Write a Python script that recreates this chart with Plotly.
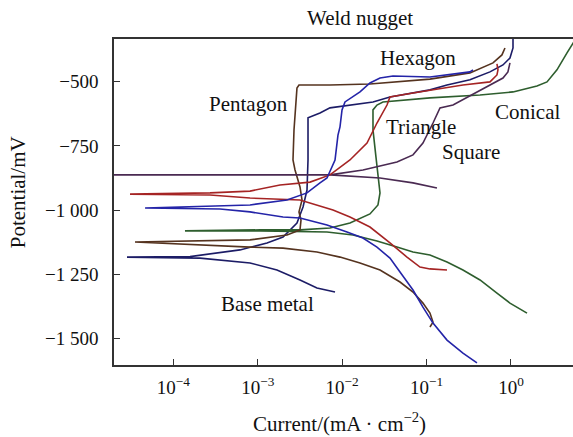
import numpy as np
import plotly.graph_objects as go

# log10(current density, mA/cm^2) and potential (mV) for each specimen
tri_logi = [-0.758, -0.960, -1.078, -1.232, -1.434, -1.671, -1.908, -2.109, -2.500, -3.092, -3.566, -4.514,
            -3.566, -3.092, -2.737, -2.381, -2.145, -1.908, -1.706, -1.588, -1.469, -1.434, -1.161, -0.569,
            -0.249, -0.166, -0.154, -0.166]
tri_e = [-1233, -1229, -1222, -1183, -1128, -1066, -1027, -1000, -961, -953, -941, -938,
         -933, -926, -902, -891, -863, -805, -739, -661, -591, -560, -544, -513,
         -501, -474, -454, -431]

hex_logi = [-0.403, -0.569, -0.758, -0.924, -1.043, -1.161, -1.315, -1.434, -1.588, -1.754, -1.943, -2.180,
            -2.500, -2.701, -3.092, -3.448, -4.336,
            -3.092, -2.654, -2.417, -2.263, -2.180, -2.085, -2.050, -2.026, -2.002, -1.967, -1.789, -1.671,
            -1.552, -1.398, -0.960, -0.486, -0.450]
hex_e = [-1595, -1557, -1506, -1440, -1378, -1311, -1241, -1187, -1144, -1109, -1085, -1058,
         -1031, -1027, -1007, -996, -992,
         -980, -961, -933, -894, -875, -805, -708, -676, -610, -579, -540, -505,
         -486, -478, -482, -462, -454]

base_logi = [-2.085, -2.299, -2.500, -2.773, -3.092, -3.685, -4.550,
             -3.803, -3.211, -2.891, -2.701, -2.536, -2.464, -2.417, -2.405, -2.405, -2.405, -2.263, -2.145,
             -1.635, -1.434, -0.960, -0.758, -0.486, -0.249, -0.095, -0.012, 0.024, 0.024]
base_e = [-1319, -1303, -1272, -1233, -1206, -1187, -1183,
          -1181, -1155, -1128, -1105, -1050, -988, -922, -805, -688, -641, -622, -602,
          -579, -560, -532, -513, -493, -462, -435, -408, -369, -330]

pent_logi = [-0.960, -0.924, -0.960, -1.043, -1.161, -1.315, -1.552, -1.789, -2.026, -2.299, -2.701, -3.092,
             -4.455,
             -3.092, -2.654, -2.500, -2.488, -2.512, -2.476, -2.500, -2.559, -2.583, -2.571, -2.547, -2.536,
             -2.512, -2.145, -1.671, -0.960, -0.486, -0.213, -0.107, -0.071]
pent_e = [-1455, -1436, -1401, -1362, -1319, -1280, -1233, -1206, -1183, -1163, -1148, -1144,
          -1124,
          -1116, -1097, -1077, -1039, -1007, -961, -910, -844, -805, -688, -571, -525,
          -513, -513, -509, -490, -466, -427, -396, -369]

con_logi = [0.190, -0.012, -0.166, -0.367, -0.569, -0.758, -0.960, -1.161, -1.351, -1.588, -1.872, -2.180,
            -2.974, -3.863,
            -2.974, -2.500, -2.145, -1.908, -1.671, -1.576, -1.552, -1.576, -1.600, -1.635, -1.635, -1.588,
            -1.517, -0.960, -0.367, 0.024, 0.308, 0.427, 0.545, 0.664, 0.758]
con_e = [-1401, -1362, -1323, -1272, -1233, -1202, -1175, -1163, -1144, -1120, -1097, -1085,
         -1081, -1081,
         -1077, -1077, -1070, -1050, -1015, -980, -933, -871, -793, -688, -610, -591,
         -579, -563, -552, -540, -517, -501, -454, -388, -338]

sq_logi = [-0.877, -1.161, -1.552, -2.145, -4.710, -2.145, -1.754, -1.351, -1.161, -1.043, -0.924, -0.841,
           -0.687, -0.403, -0.213, -0.095, -0.036, -0.012]
sq_e = [-914, -894, -875, -863, -863, -863, -844, -813, -785, -739, -661, -602,
        -591, -540, -509, -486, -462, -427]

series = [
    ("Base metal", base_logi, base_e, "#1c1c66"),
    ("Conical", con_logi, con_e, "#2e5e2e"),
    ("Pentagon", pent_logi, pent_e, "#55331f"),
    ("Square", sq_logi, sq_e, "#4a2a52"),
    ("Triangle", tri_logi, tri_e, "#a52424"),
    ("Hexagon", hex_logi, hex_e, "#2424a8"),
]

# label positions: (text, current mA/cm^2, potential mV)
label_text = ["Pentagon", "Hexagon", "Triangle", "Conical", "Square", "Base metal"]
label_i = [7.66e-4, 8.0e-2, 8.6e-2, 1.59, 0.34, 1.32e-3]
label_e = [-587, -408, -676, -618, -774, -1366]

x_tickvals = [1e-4, 1e-3, 1e-2, 1e-1, 1e0]
x_ticktext = ["10<sup>−4</sup>", "10<sup>−3</sup>", "10<sup>−2</sup>", "10<sup>−1</sup>", "10<sup>0</sup>"]
y_tickvals = [-500, -750, -1000, -1250, -1500]
y_ticktext = ["−500", "−750", "−1 000", "−1 250", "−1 500"]

FONT = "Liberation Serif, Times New Roman, serif"

fig = go.Figure()
for name, li, e, col in series:
    fig.add_trace(go.Scatter(x=10 ** np.array(li), y=e, mode="lines", name=name,
                             line=dict(color=col, width=1.6), showlegend=False))

for t, xi, ye in zip(label_text, label_i, label_e):
    fig.add_annotation(x=np.log10(xi), y=ye, xref="x", yref="y", text=t, showarrow=False,
                       xanchor="center", yanchor="middle",
                       font=dict(family=FONT, size=21, color="#111"))

fig.add_annotation(x=0.536, y=1.064, xref="paper", yref="paper", text="Weld nugget", showarrow=False,
                   xanchor="center", yanchor="middle",
                   font=dict(family=FONT, size=21, color="#111"))
fig.add_annotation(x=0.492, y=-0.175, xref="paper", yref="paper", text="Current/(mA · cm<sup>−2</sup>)",
                   showarrow=False, xanchor="center", yanchor="middle",
                   font=dict(family=FONT, size=21, color="#111"))
fig.add_annotation(x=-0.209, y=0.53, xref="paper", yref="paper", text="Potential/mV", textangle=-90,
                   showarrow=False, xanchor="center", yanchor="middle",
                   font=dict(family=FONT, size=21, color="#111"))

fig.update_layout(
    width=573, height=437,
    margin=dict(l=114, r=0, t=39, b=72),
    paper_bgcolor="white", plot_bgcolor="white",
    font=dict(family=FONT, size=19, color="#111"),
)
fig.update_xaxes(type="log", range=[-4.704, 0.735], showgrid=False, zeroline=False,
                 showline=True, linecolor="#333", linewidth=1.6, mirror=True,
                 ticks="inside", ticklen=6, tickwidth=1.3, tickcolor="#333",
                 tickvals=x_tickvals, ticktext=x_ticktext, ticklabelstandoff=4)
fig.update_yaxes(range=[-1603, -334], showgrid=False, zeroline=False,
                 showline=True, linecolor="#333", linewidth=1.6,
                 ticks="inside", ticklen=6, tickwidth=1.3, tickcolor="#333",
                 tickvals=y_tickvals, ticktext=y_ticktext, ticklabelstandoff=10)

fig.write_html("out.html")
